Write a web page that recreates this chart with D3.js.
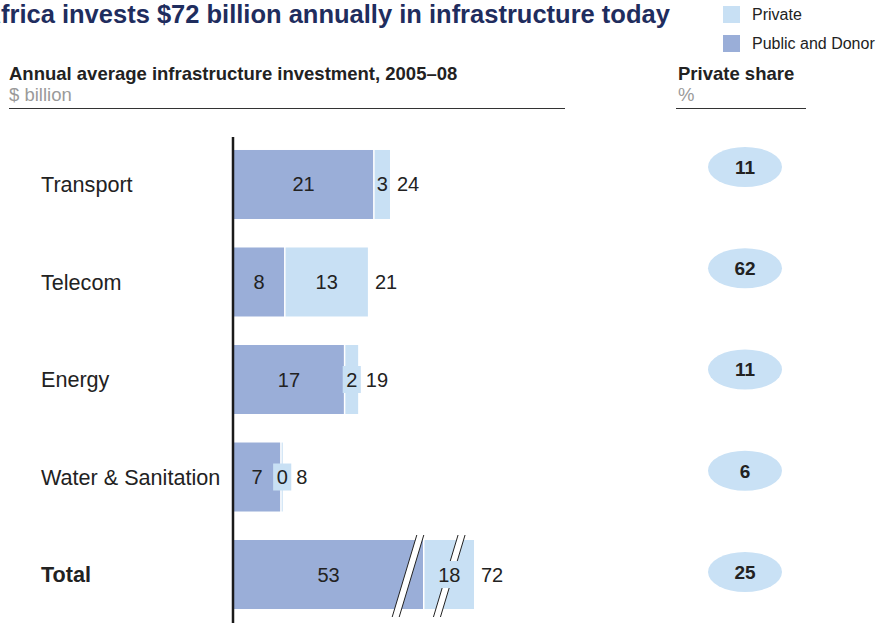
<!DOCTYPE html>
<html><head><meta charset="utf-8">
<script src="https://cdn.jsdelivr.net/npm/d3@7"></script>
<style>
html,body{margin:0;padding:0;background:#fff;}
svg{display:block;font-family:"Liberation Sans",Arial,Helvetica,sans-serif;}
</style></head>
<body><svg id="c" width="878" height="623"></svg>
<script>
// ---- data ----
const categories = ["Transport", "Telecom", "Energy", "Water & Sanitation", "Total"];
const publicDonor = [21.4, 7.7, 16.9, 7.1, 53];
const privateInv = [2.6, 12.9, 2.2, 0.4, 18];
const publicLabels = ["21", "8", "17", "7", "53"];
const privateLabels = ["3", "13", "2", "0", "18"];
const totalLabels = ["24", "21", "19", "8", "72"];
const privateShare = [11, 62, 11, 6, 25];
const seriesNames = ["Private", "Public and Donor"];

const colPublic = "#9aaed8", colPrivate = "#c8e0f4", colPill = "#c9e1f5";
const svg = d3.select("#c");

// title (cut at left edge as in the original)
const tSize = 25.5;
const title = svg.append("text").attr("y", 23).attr("font-size", tSize).attr("font-weight", "bold")
  .attr("fill", "#1f2d5e").text("Africa invests $72 billion annually in infrastructure today");
const aW = (() => { const t = svg.append("text").attr("font-size", tSize).attr("font-weight", "bold").text("A"); const w = t.node().getComputedTextLength(); t.remove(); return w; })();
title.attr("x", -aW + 1);

// legend
const legColors = [colPrivate, colPublic];
seriesNames.forEach((n, i) => {
  const g = svg.append("g").attr("transform", `translate(723,${6 + i * 29})`);
  g.append("rect").attr("width", 17).attr("height", 17).attr("fill", legColors[i]);
  g.append("text").attr("x", 29).attr("y", 14).attr("font-size", 16).attr("fill", "#222").text(n);
});

// headers
svg.append("text").attr("x", 9).attr("y", 80).attr("font-size", 18.5).attr("font-weight", "bold").attr("fill", "#222")
  .text("Annual average infrastructure investment, 2005–08");
svg.append("text").attr("x", 9).attr("y", 101).attr("font-size", 18.5).attr("fill", "#9a9a9a").text("$ billion");
svg.append("line").attr("x1", 9).attr("x2", 565).attr("y1", 108.5).attr("y2", 108.5).attr("stroke", "#333").attr("stroke-width", 1);
svg.append("text").attr("x", 678).attr("y", 80).attr("font-size", 18.5).attr("font-weight", "bold").attr("fill", "#222").text("Private share");
svg.append("text").attr("x", 678).attr("y", 101).attr("font-size", 18.5).attr("fill", "#9a9a9a").text("%");
svg.append("line").attr("x1", 676).attr("x2", 806).attr("y1", 108.5).attr("y2", 108.5).attr("stroke", "#333").attr("stroke-width", 1);

// scales
const y = d3.scaleBand().domain(categories).range([135.75, 623.25]).paddingInner(0.2923).paddingOuter(0.146);
const x = d3.scaleLinear().domain([0, 24]).range([234, 390]);
const xTotal = d3.scaleLinear().domain([0, 53, 71]).range([234, 423, 474]); // broken total bar
const yPill = d3.scalePoint().domain(categories).range([167, 572]);

const rows = categories.map((c, i) => ({
  cat: c, pub: publicDonor[i], pri: privateInv[i],
  pubL: publicLabels[i], priL: privateLabels[i], totL: totalLabels[i], share: privateShare[i],
  isTotal: c === "Total"
}));

const gap = 1.5;
rows.forEach(r => {
  const sx = r.isTotal ? xTotal : x;
  const y0 = y(r.cat), h = y.bandwidth(), cy = y0 + h / 2;
  const x0 = sx(0), x1 = sx(r.pub), x2 = sx(r.pub + r.pri);
  svg.append("text").attr("x", 41).attr("y", cy).attr("dy", "0.35em").attr("font-size", 21.6)
    .attr("font-weight", r.isTotal ? "bold" : "normal").attr("fill", "#222").text(r.cat);
  svg.append("rect").attr("x", x0).attr("y", y0).attr("width", x1 - x0).attr("height", h).attr("fill", colPublic);
  svg.append("rect").attr("x", x1 + gap).attr("y", y0).attr("width", Math.max(0.8, x2 - x1 - gap)).attr("height", h).attr("fill", colPrivate);
  const drawBreak = (bx) => {
    const hh = 41, cyb = cy + 1.5, k = 0.3, w = 3.5;
    const pts = [[bx - w + k * hh, cyb - hh], [bx + w + k * hh, cyb - hh], [bx + w - k * hh, cyb + hh], [bx - w - k * hh, cyb + hh]];
    svg.append("polygon").attr("points", pts.map(p => p.join(",")).join(" ")).attr("fill", "#fff");
    svg.append("line").attr("x1", pts[0][0]).attr("y1", pts[0][1]).attr("x2", pts[3][0]).attr("y2", pts[3][1]).attr("stroke", "#222").attr("stroke-width", 1);
    svg.append("line").attr("x1", pts[1][0]).attr("y1", pts[1][1]).attr("x2", pts[2][0]).attr("y2", pts[2][1]).attr("stroke", "#222").attr("stroke-width", 1);
  };
  if (r.isTotal) { drawBreak(x1 - 15); drawBreak((x1 + gap + x2) / 2); }
  svg.append("text").attr("x", (x0 + x1) / 2).attr("y", cy).attr("dy", "0.35em").attr("text-anchor", "middle")
    .attr("font-size", 20).attr("fill", "#222").text(r.pubL);
  const pcx = (x1 + gap + x2) / 2;
  const pt = svg.append("text").attr("x", pcx).attr("y", cy).attr("dy", "0.35em").attr("text-anchor", "middle")
    .attr("font-size", 20).attr("fill", "#222").text(r.priL);
  const bb = pt.node().getBBox();
  let labelStart = x2 + 7;
  if (r.isTotal || bb.width + 4 > x2 - x1 - gap) {
    svg.insert("rect", () => pt.node()).attr("x", bb.x - 3.5).attr("y", cy - 13.5).attr("width", bb.width + 7).attr("height", 27).attr("fill", colPrivate);
    labelStart = Math.max(labelStart, bb.x + bb.width + 3.5 + 5);
  }
  svg.append("text").attr("x", labelStart).attr("y", cy).attr("dy", "0.35em").attr("font-size", 20).attr("fill", "#222").text(r.totL);
  const py = yPill(r.cat);
  svg.append("ellipse").attr("cx", 745).attr("cy", py).attr("rx", 37).attr("ry", 20).attr("fill", colPill);
  svg.append("text").attr("x", 745).attr("y", py).attr("dy", "0.36em").attr("text-anchor", "middle")
    .attr("font-size", 19).attr("font-weight", "bold").attr("fill", "#222").text(r.share);
});

svg.append("line").attr("x1", 233).attr("x2", 233).attr("y1", 137).attr("y2", 623).attr("stroke", "#1a1a1a").attr("stroke-width", 2.5);
</script></body></html>
